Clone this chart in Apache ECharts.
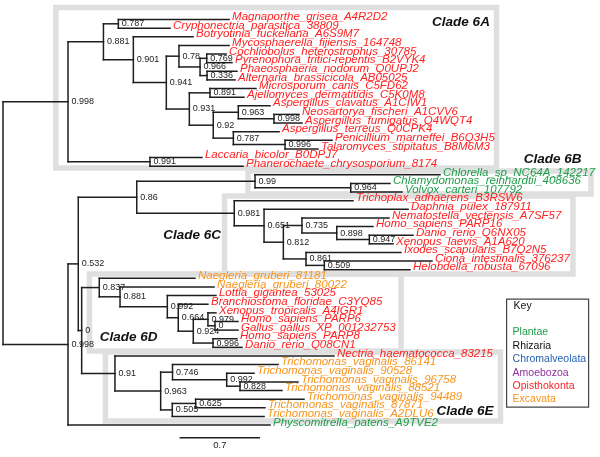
<!DOCTYPE html>
<html><head><meta charset="utf-8">
<script src="https://cdn.jsdelivr.net/npm/echarts@6/dist/echarts.min.js"></script>
<style>html,body{margin:0;padding:0;background:#fff}#c{width:600px;height:457px}</style>
</head><body><div id="c"></div>
<script>
// ---- taxa (leaves, top to bottom) ----
const taxa = [
 'Magnaporthe_grisea_A4R2D2','Cryphonectria_parasitica_38809','Botryotinia_fuckeliana_A6S9M7',
 'Mycosphaerella_fijiensis_164748','Cochliobolus_heterostrophus_30785','Pyrenophora_tritici-repentis_B2VYK4',
 'Phaeosphaeria_nodorum_Q0UPJ2','Alternaria_brassicicola_AB05025','Microsporum_canis_C5FD62',
 'Ajellomyces_dermatitidis_C5K0M8','Aspergillus_clavatus_A1CIW1','Neosartorya_fischeri_A1CVV6',
 'Aspergillus_fumigatus_Q4WQT4','Aspergillus_terreus_Q0CPK4','Penicillium_marneffei_B6Q3H5',
 'Talaromyces_stipitatus_B8M6M3','Laccaria_bicolor_B0DPJ7','Phanerochaete_chrysosporium_8174',
 'Chlorella_sp_NC64A_142217','Chlamydomonas_reinhardtii_408636','Volvox_carteri_107792',
 'Trichoplax_adhaerens_B3RSW6','Daphnia_pulex_187911','Nematostella_vectensis_A7SF57',
 'Homo_sapiens_PARP16','Danio_rerio_Q6NX05','Xenopus_laevis_A1A620',
 'Ixodes_scapularis_B7Q2N5','Ciona_intestinalis_376237','Helobdella_robusta_67096',
 'Naegleria_gruberi_81181','Naegleria_gruberi_80022','Lottia_gigantea_53025',
 'Branchiostoma_floridae_C3YQ85','Xenopus_tropicalis_A4IGR1','Homo_sapiens_PARP6',
 'Gallus_gallus_XP_001232753','Homo_sapiens_PARP8','Danio_rerio_Q08CN1',
 'Nectria_haematococca_83215','Trichomonas_vaginalis_86141','Trichomonas_vaginalis_90528',
 'Trichomonas_vaginalis_96758','Trichomonas_vaginalis_88521','Trichomonas_vaginalis_94489',
 'Trichomonas_vaginalis_87871','Trichomonas_vaginalis_A2DLU6','Physcomitrella_patens_A9TVE2'
];
// group index into groupNames
const taxonGroup = [4,4,4,4,4,4,4,4,4,4,4,4,4,4,4,4,4,4, 0,0,0, 4,4,4,4,4,4,4,4,4, 5,5,4,4,4,4,4,4,4, 4,5,5,5,5,5,5,5, 0];
// distance from root to each tip (branch-length units)
const tipDepth = [2.003,1.480,1.684,2.003,1.976,2.029,2.073,2.056,2.242,2.135,2.366,2.623,2.649,2.446,2.915,2.791,1.763,2.127,
 3.872,3.429,3.535, 3.101,3.589,3.420,3.278,3.633,3.456,3.526,3.801,3.606,
 1.701,1.870,1.887,1.816,1.887,2.082,2.082,2.073,2.118,
 2.933,2.437,2.224,2.614,2.472,2.667,2.321,2.313, 2.366];
// parent internal node of each tip
const tipParent = [3,3,4,6,8,8,9,9,11,11,13,14,14,15,16,16,17,17, 21,22,22, 23,24,26,27,28,28,29,30,30,
 32,33,34,35,37,38,38,39,39, 40,42,43,44,44,46,46,45, 18];
// internal nodes
const nodeParent = [-1,0,1,2,2,4,5,6,7,7,5,10,10,12,13,12,15,1, 0,18,19,20,21,20,23,24,25,26,27,25,29, 19,31,32,33,34,35,36,37,36, 31,40,41,42,43,41,45];
const nodeDepth  = [0,0.576,0.890,1.022,1.155,1.447,1.559,1.746,1.805,1.808,1.651,1.834,1.863,2.085,2.401,2.041,2.499,1.302,
 0.576,0.667,1.185,2.233,3.081,2.049,2.313,2.484,2.649,2.957,3.246,2.685,2.847,
 0.697,0.853,1.037,1.456,1.553,1.686,1.816,1.878,1.861,
 0.992,1.397,1.502,1.982,2.100,1.500,1.707];
const nodeSupport = ['','0.998','0.881','0.787','0.901','0.941','0.78','0.966','0.769','0.336','0.931','0.891','0.92','0.963','0.998','0.787','0.996','0.991',
 '0.998','0.532','0.86','0.99','0.964','0.981','0.651','0.812','0.735','0.898','0.947','0.861','0.509',
 '0','0.837','0.881','0.992','0.664','0.924','0.979','0','0.996',
 '0.91','0.963','0.746','0.992','0.828','0.505','0.625'];

const groupNames  = ['Plantae','Rhizaria','Chromalveolata','Amoebozoa','Opisthokonta','Excavata'];
const groupColors = ['#1f9e4a','#111111','#2563b4','#8e2f9e','#ff1f1f','#f7941d'];

// clades: box extents in (branch units, leaf rows)
const cladeNames  = ['Clade 6A','Clade 6B','Clade 6C','Clade 6D','Clade 6E'];
const cladeLeft   = [0.468,2.171,1.963,0.766,0.908];
const cladeRight  = [4.373,5.210,5.050,3.527,4.408];
const cladeTop    = [-1.391,17.559,20.457,29.50,38.541];
const cladeBottom = [17.211,20.225,29.50,38.425,46.538];
const cladeLabelX = [4.058,4.869,1.675,1.114,4.094];
const cladeLabelY = [0.29,16.203,24.977,36.88,45.457];

const scaleBarStart = 1.571, scaleBarLength = 0.7, scaleBarRow = 48.47;

// ---- layout of tree ----
const nNodes = nodeParent.length;
const nodeY = new Array(nNodes);
const nodeSpan = new Array(nNodes);
function yOf(j){
  if (nodeY[j] !== undefined) return nodeY[j];
  const ys = [];
  tipParent.forEach((p,i)=>{ if (p===j) ys.push(i); });
  nodeParent.forEach((p,k)=>{ if (p===j) ys.push(yOf(k)); });
  const lo = Math.min(...ys), hi = Math.max(...ys);
  nodeSpan[j] = [lo,hi];
  nodeY[j] = (lo+hi)/2;
  return nodeY[j];
}
for (let j=0;j<nNodes;j++) yOf(j);

const segs = [];
taxa.forEach((t,i)=>{ segs.push([nodeDepth[tipParent[i]], i, tipDepth[i], i]); });
for (let k=0;k<nNodes;k++){
  if (nodeParent[k] >= 0) segs.push([nodeDepth[nodeParent[k]], nodeY[k], nodeDepth[k], nodeY[k]]);
  segs.push([nodeDepth[k], nodeSpan[k][0], nodeDepth[k], nodeSpan[k][1]]);
}
segs.push([scaleBarStart, scaleBarRow, scaleBarStart+scaleBarLength, scaleBarRow]);

const leafData = taxa.map((t,i)=>[tipDepth[i], i, i]);
const supportData = [];
for (let k=1;k<nNodes;k++) supportData.push([nodeDepth[k], nodeY[k], k]);
const cladeData = cladeNames.map((n,i)=>[cladeLeft[i], cladeTop[i], cladeRight[i], cladeBottom[i], i]);
const cladeLabelData = cladeNames.map((n,i)=>[cladeLabelX[i], cladeLabelY[i], i]);

const chart = echarts.init(document.getElementById('c'), null, {renderer:'canvas'});
const LEAF_FONT = 'italic 11.5px "Liberation Sans", Arial, sans-serif';
const SUP_FONT = '9px "Liberation Sans", Arial, sans-serif';

const keyChildren = [
  {type:'rect', shape:{x:0,y:0,width:82,height:108}, style:{fill:'#fff', stroke:'#444', lineWidth:1.2}},
  {type:'text', x:7, y:7, style:{text:'Key', fill:'#111', font:'10.5px "Liberation Sans", Arial, sans-serif', verticalAlign:'middle'}}
];
groupNames.forEach((g,i)=>{
  keyChildren.push({type:'text', x:6, y:33.5+i*13.4, style:{text:g, fill:groupColors[i], font:'10.5px "Liberation Sans", Arial, sans-serif', verticalAlign:'middle'}});
});

chart.setOption({
  animation:false,
  backgroundColor:'#fff',
  grid:{left:0,right:0,top:0,bottom:0},
  xAxis:{type:'value', min:-0.0266, max:5.2897, show:false},
  yAxis:{type:'value', min:-2.26, max:50.707, inverse:true, show:false},
  graphic:[{type:'group', left:506, top:298.5, children:keyChildren}],
  series:[
    { type:'custom', z:1, clip:false, data:cladeData, encode:{x:[0,2], y:[1,3]},
      renderItem:(p,api)=>{
        const a = api.coord([api.value(0), api.value(1)]);
        const b = api.coord([api.value(2), api.value(3)]);
        return {type:'rect', shape:{x:a[0], y:a[1], width:b[0]-a[0], height:b[1]-a[1]},
          style:{fill:'none', stroke:'#dfdfdf', lineWidth:5.5}};
      }},
    { type:'custom', z:2, clip:false, data:cladeLabelData, encode:{x:0, y:1},
      renderItem:(p,api)=>{
        const a = api.coord([api.value(0), api.value(1)]);
        return {type:'text', x:a[0], y:a[1], style:{text:cladeNames[api.value(2)], fill:'#111',
          font:'italic bold 13.5px "Liberation Sans", Arial, sans-serif', align:'center', verticalAlign:'middle'}};
      }},
    { type:'custom', z:3, clip:false, data:segs, encode:{x:[0,2], y:[1,3]},
      renderItem:(p,api)=>{
        const a = api.coord([api.value(0), api.value(1)]);
        const b = api.coord([api.value(2), api.value(3)]);
        return {type:'line', shape:{x1:a[0], y1:a[1], x2:b[0], y2:b[1]},
          style:{stroke:'#1e1e1e', lineWidth:1.5, lineCap:'square'}};
      }},
    { type:'custom', z:4, clip:false, data:leafData, encode:{x:0, y:1},
      renderItem:(p,api)=>{
        const a = api.coord([api.value(0), api.value(1)]);
        const i = api.value(2);
        return {type:'text', x:a[0]+3, y:a[1]-2.5, style:{text:taxa[i], fill:groupColors[taxonGroup[i]],
          font:LEAF_FONT, align:'left', verticalAlign:'middle'}};
      }},
    { type:'custom', z:4, clip:false, data:supportData, encode:{x:0, y:1},
      renderItem:(p,api)=>{
        const a = api.coord([api.value(0), api.value(1)]);
        return {type:'text', x:a[0]+3.5, y:a[1], style:{text:nodeSupport[api.value(2)], fill:'#222',
          font:SUP_FONT, align:'left', verticalAlign:'middle'}};
      }},
    { type:'custom', z:4, clip:false, data:[[scaleBarStart+scaleBarLength/2, scaleBarRow]], encode:{x:0,y:1},
      renderItem:(p,api)=>{
        const a = api.coord([api.value(0), api.value(1)]);
        return {type:'text', x:a[0], y:a[1]+8, style:{text:String(scaleBarLength), fill:'#222',
          font:'9.5px "Liberation Sans", Arial, sans-serif', align:'center', verticalAlign:'middle'}};
      }}
  ]
});
</script></body></html>
